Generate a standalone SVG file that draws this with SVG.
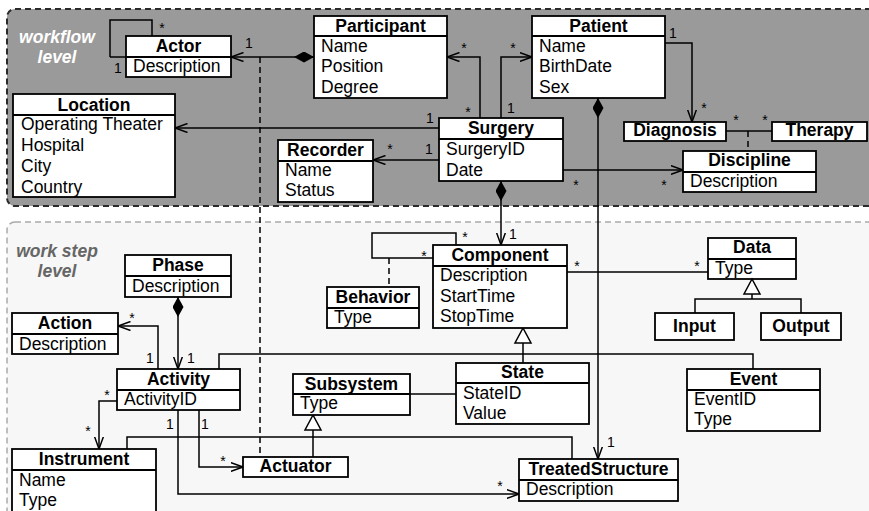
<svg xmlns="http://www.w3.org/2000/svg" width="869" height="511" viewBox="0 0 869 511">
<style>
text{font-family:"Liberation Sans",Arial,Helvetica,sans-serif;font-size:17.5px;fill:#000}
.t{font-weight:bold;text-anchor:middle}
.m{font-size:14px}
.c{text-anchor:middle}
.box{fill:#fff;stroke:#000;stroke-width:1.8}
.div{stroke:#000;stroke-width:1.8}
.ln{fill:none;stroke:#000;stroke-width:1.5}
.dash{fill:none;stroke:#000;stroke-width:1.5;stroke-dasharray:6 4}
.gen{fill:#fff;stroke:#000;stroke-width:1.5}
.lvl{font-weight:bold;font-style:italic;text-anchor:middle}
</style>
<defs>
<marker id="arr" viewBox="0 0 13 10" refX="12.5" refY="5" markerWidth="13" markerHeight="10" orient="auto" markerUnits="userSpaceOnUse">
<path d="M0,0.5 L12.5,5 L0,9.5" fill="none" stroke="#000" stroke-width="1.5"/>
</marker>
<marker id="dia" viewBox="0 0 20 11" refX="0" refY="5.5" markerWidth="20" markerHeight="11" orient="auto" markerUnits="userSpaceOnUse">
<path d="M0,5.5 L10,0 L20,5.5 L10,11 Z" fill="#000"/>
</marker>
</defs>

<g id="panels">
<rect x="7" y="9" width="880" height="197" rx="8" fill="#9a9a9a" stroke="#2a2a2a" stroke-width="2" stroke-dasharray="6 4"/>
<text class="lvl" x="57" y="43" style="fill:#fff">workflow</text>
<text class="lvl" x="57" y="63" style="fill:#fff">level</text>
<rect x="7" y="222" width="880" height="320" rx="8" fill="#f7f7f7" stroke="#aaaaaa" stroke-width="1.5" stroke-dasharray="6 4"/>
<text class="lvl" x="57" y="257" style="fill:#666">work step</text>
<text class="lvl" x="57" y="277" style="fill:#666">level</text>
</g>

<g id="connectors">
<path class="ln" d="M110,57 L110,20 L152,20 L152,36 M110,57 L126,57"/>
<text class="m c" x="162" y="33">*</text>
<text class="m c" x="118" y="73">1</text>

<path class="ln" d="M314,57 L231,57" marker-start="url(#dia)" marker-end="url(#arr)"/>
<text class="m c" x="249" y="48">1</text>
<path class="dash" d="M260,57 L260,457"/>

<path class="ln" d="M439,128 L175,128" marker-end="url(#arr)"/>
<text class="m c" x="145" y="121">*</text>
<text class="m c" x="430" y="123">1</text>

<path class="ln" d="M439,160 L373,160" marker-end="url(#arr)"/>
<text class="m c" x="390" y="154">*</text>
<text class="m c" x="429" y="154">1</text>

<path class="ln" d="M480,118 L480,57 L447,57" marker-end="url(#arr)"/>
<text class="m c" x="464" y="53">*</text>
<text class="m c" x="468" y="117">*</text>

<path class="ln" d="M501,118 L501,57 L532,57" marker-end="url(#arr)"/>
<text class="m c" x="513" y="53">*</text>
<text class="m c" x="511" y="113">1</text>

<path class="ln" d="M665,43 L692,43 L692,122" marker-end="url(#arr)"/>
<text class="m c" x="673" y="38">1</text>
<text class="m c" x="704" y="113">*</text>

<path class="ln" d="M726,131 L772,131"/>
<path class="dash" d="M748,131 L748,151"/>
<text class="m c" x="736" y="125">*</text>
<text class="m c" x="765" y="125">*</text>

<path class="ln" d="M563,170 L683,170" marker-end="url(#arr)"/>
<text class="m c" x="576" y="190">*</text>
<text class="m c" x="664" y="190">*</text>

<path class="ln" d="M598,98 L598,459" marker-start="url(#dia)" marker-end="url(#arr)"/>
<text class="m c" x="611" y="447">1</text>

<path class="ln" d="M501,181 L501,245" marker-start="url(#dia)" marker-end="url(#arr)"/>
<text class="m c" x="513" y="239">1</text>

<path class="ln" d="M456,245 L456,233 L372,233 L372,258 L433,258"/>
<path class="dash" d="M389,258 L389,287"/>
<text class="m c" x="465" y="242">*</text>
<text class="m c" x="424" y="261">*</text>

<path class="ln" d="M567,272 L708,272"/>
<text class="m c" x="577" y="271">*</text>
<text class="m c" x="697" y="271">*</text>

<path class="ln" d="M523,343 L523,363 M219,369 L219,354 L753,354 L753,369"/>
<polygon class="gen" points="523,328 515,343 531,343"/>

<path class="ln" d="M178,297 L178,369" marker-start="url(#dia)" marker-end="url(#arr)"/>
<text class="m c" x="191" y="363">1</text>

<path class="ln" d="M158,369 L158,326 L118,326" marker-end="url(#arr)"/>
<text class="m c" x="132" y="323">*</text>
<text class="m c" x="150" y="363">1</text>

<path class="ln" d="M117,401 L99,401 L99,449" marker-end="url(#arr)"/>
<text class="m c" x="107" y="400">*</text>
<text class="m c" x="88" y="436">*</text>

<path class="ln" d="M199,410 L199,467 L243,467" marker-end="url(#arr)"/>
<text class="m c" x="205" y="429">1</text>
<text class="m c" x="223" y="466">*</text>

<path class="ln" d="M178,410 L178,494 L519,494" marker-end="url(#arr)"/>
<text class="m c" x="170" y="429">1</text>
<text class="m c" x="500" y="491">*</text>

<path class="ln" d="M127,449 L127,437 L572,437 L572,459"/>

<path class="ln" d="M313,430 L313,457"/>
<polygon class="gen" points="313,415 305,430 321,430"/>

<path class="ln" d="M410,394 L456,394"/>
</g>

<g id="actor">
<rect class="box" x="126" y="36" width="105" height="41"/>
<line class="div" x1="126" y1="57" x2="231" y2="57"/>
<text class="t" x="178.5" y="52">Actor</text>
<text x="133" y="72">Description</text>
</g>

<g id="participant">
<rect class="box" x="314" y="16" width="133" height="82"/>
<line class="div" x1="314" y1="36" x2="447" y2="36"/>
<text class="t" x="380.5" y="32">Participant</text>
<text x="321" y="52">Name</text>
<text x="321" y="72">Position</text>
<text x="321" y="92.5">Degree</text>
</g>

<g id="patient">
<rect class="box" x="532" y="16" width="133" height="82"/>
<line class="div" x1="532" y1="36" x2="665" y2="36"/>
<text class="t" x="598.5" y="32">Patient</text>
<text x="539" y="52">Name</text>
<text x="539" y="72">BirthDate</text>
<text x="539" y="92.5">Sex</text>
</g>

<g id="location">
<rect class="box" x="13" y="94" width="162" height="103"/>
<line class="div" x1="13" y1="115" x2="175" y2="115"/>
<text class="t" x="94" y="111">Location</text>
<text x="21" y="130">Operating Theater</text>
<text x="21" y="151">Hospital</text>
<text x="21" y="172">City</text>
<text x="21" y="193">Country</text>
</g>

<g id="surgery">
<rect class="box" x="439" y="118" width="124" height="63"/>
<line class="div" x1="439" y1="139" x2="563" y2="139"/>
<text class="t" x="501" y="134">Surgery</text>
<text x="446" y="155">SurgeryID</text>
<text x="446" y="176">Date</text>
</g>

<g id="recorder">
<rect class="box" x="278" y="140" width="95" height="62"/>
<line class="div" x1="278" y1="161" x2="373" y2="161"/>
<text class="t" x="325.5" y="156">Recorder</text>
<text x="285" y="176">Name</text>
<text x="285" y="196">Status</text>
</g>

<g id="diagnosis">
<rect class="box" x="624" y="122" width="102" height="19"/>
<text class="t" x="675" y="136">Diagnosis</text>
</g>

<g id="therapy">
<rect class="box" x="772" y="122" width="95" height="19"/>
<text class="t" x="819.5" y="136">Therapy</text>
</g>

<g id="discipline">
<rect class="box" x="683" y="151" width="133" height="41"/>
<line class="div" x1="683" y1="172" x2="816" y2="172"/>
<text class="t" x="749.5" y="166">Discipline</text>
<text x="690" y="187">Description</text>
</g>

<g id="component">
<rect class="box" x="433" y="245" width="134" height="83"/>
<line class="div" x1="433" y1="266" x2="567" y2="266"/>
<text class="t" x="500" y="261">Component</text>
<text x="440" y="281">Description</text>
<text x="440" y="302">StartTime</text>
<text x="440" y="322">StopTime</text>
</g>

<g id="behavior">
<rect class="box" x="327" y="287" width="92" height="41"/>
<line class="div" x1="327" y1="308" x2="419" y2="308"/>
<text class="t" x="373" y="303">Behavior</text>
<text x="334" y="323">Type</text>
</g>

<g id="data">
<rect class="box" x="708" y="238" width="88" height="41"/>
<line class="div" x1="708" y1="259" x2="796" y2="259"/>
<text class="t" x="752" y="253">Data</text>
<text x="715" y="274">Type</text>
</g>

<g id="data-gen">
<path class="ln" d="M752,294 L752,299 M695,313 L695,299 L801,299 L801,313"/>
<polygon class="gen" points="752,279 744,294 760,294"/>
</g>

<g id="input">
<rect class="box" x="655" y="313" width="79" height="27"/>
<text class="t" x="694.5" y="332">Input</text>
</g>

<g id="output">
<rect class="box" x="761" y="313" width="80" height="27"/>
<text class="t" x="801" y="332">Output</text>
</g>

<g id="phase">
<rect class="box" x="125" y="255" width="106" height="42"/>
<line class="div" x1="125" y1="276" x2="231" y2="276"/>
<text class="t" x="178" y="271">Phase</text>
<text x="132" y="292">Description</text>
</g>

<g id="action">
<rect class="box" x="12" y="313" width="106" height="41"/>
<line class="div" x1="12" y1="334" x2="118" y2="334"/>
<text class="t" x="65" y="329">Action</text>
<text x="19" y="350">Description</text>
</g>

<g id="activity">
<rect class="box" x="117" y="369" width="123" height="41"/>
<line class="div" x1="117" y1="390" x2="240" y2="390"/>
<text class="t" x="178.5" y="385">Activity</text>
<text x="124" y="405">ActivityID</text>
</g>

<g id="instrument">
<rect class="box" x="12" y="449" width="144" height="75"/>
<line class="div" x1="12" y1="470" x2="156" y2="470"/>
<text class="t" x="84" y="465">Instrument</text>
<text x="19" y="486">Name</text>
<text x="19" y="506">Type</text>
</g>

<g id="actuator">
<rect class="box" x="243" y="457" width="105" height="20"/>
<text class="t" x="295.5" y="472">Actuator</text>
</g>

<g id="subsystem">
<rect class="box" x="293" y="374" width="117" height="41"/>
<line class="div" x1="293" y1="394" x2="410" y2="394"/>
<text class="t" x="351.5" y="390">Subsystem</text>
<text x="300" y="409">Type</text>
</g>

<g id="state">
<rect class="box" x="456" y="363" width="133" height="61"/>
<line class="div" x1="456" y1="383" x2="589" y2="383"/>
<text class="t" x="522.5" y="378">State</text>
<text x="463" y="399">StateID</text>
<text x="463" y="419">Value</text>
</g>

<g id="event">
<rect class="box" x="687" y="369" width="133" height="62"/>
<line class="div" x1="687" y1="390" x2="820" y2="390"/>
<text class="t" x="753.5" y="385">Event</text>
<text x="694" y="405">EventID</text>
<text x="694" y="425">Type</text>
</g>

<g id="treatedstructure">
<rect class="box" x="519" y="459" width="159" height="42"/>
<line class="div" x1="519" y1="480" x2="678" y2="480"/>
<text class="t" x="598.5" y="475">TreatedStructure</text>
<text x="526" y="495">Description</text>
</g>
</svg>
